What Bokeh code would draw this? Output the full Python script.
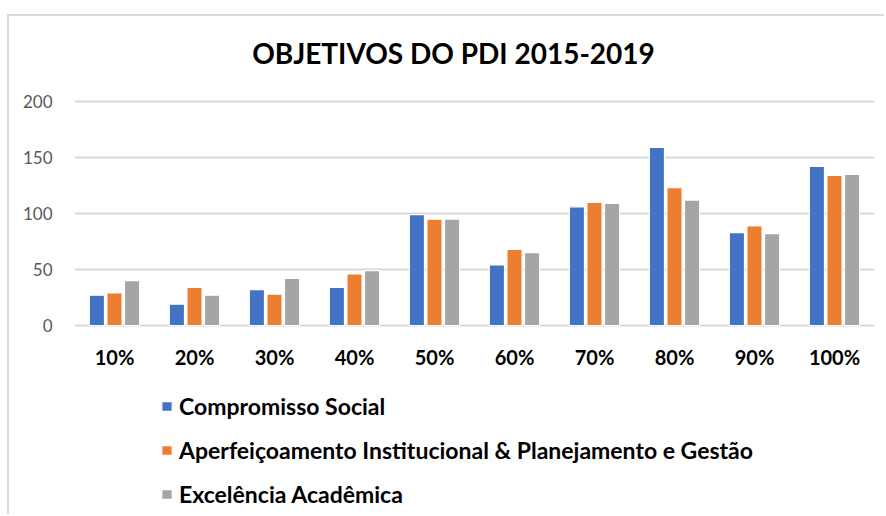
from bokeh.plotting import figure
from bokeh.models import ColumnDataSource, FactorRange, Legend, LegendItem, FixedTicker, Range1d, Label
from bokeh.core.properties import value
from bokeh.transform import dodge
from bokeh.embed import file_html
from bokeh.resources import INLINE

categories = ["10%", "20%", "30%", "40%", "50%", "60%", "70%", "80%", "90%", "100%"]
compromisso = [27, 19, 32, 34, 99, 54, 106, 159, 83, 142]
aperfeicoamento = [29, 34, 28, 46, 95, 68, 110, 123, 89, 134]
excelencia = [40, 27, 42, 49, 95, 65, 109, 112, 82, 135]
series_names = ["Compromisso Social",
                "Aperfeiçoamento Institucional & Planejamento e Gestão",
                "Excelência Acadêmica"]
colors = ["#4472C4", "#ED7D31", "#A5A5A5"]
y_ticks = [0, 50, 100, 150, 200]
title_text = "OBJETIVOS DO PDI 2015-2019"

W, H = 877, 500
top_gap, left_b = 85, 65
right_b = W - left_b - 800
px_per_unit = 224 / 200.0
y_end = 200 + top_gap / px_per_unit
y_start = 200 - (H - top_gap) / px_per_unit
label_y = -31 / px_per_unit

source = ColumnDataSource(dict(cat=categories, s0=compromisso, s1=aperfeicoamento, s2=excelencia))
lab_src = ColumnDataSource(dict(cat=categories, y=[label_y] * len(categories)))

p = figure(width=W, height=H, x_range=FactorRange(*categories), y_range=Range1d(y_start, y_end),
           output_backend="svg", toolbar_location=None,
           min_border_left=left_b, min_border_right=right_b, min_border_top=0, min_border_bottom=0)
p.x_range.range_padding = 0
p.outline_line_color = None
p.styles = {"border-left": "2px solid #D9D9D9", "border-top": "2px solid #D9D9D9",
            "margin-left": "7px", "margin-top": "14px"}

title = Label(x=379, y=H - 36, x_units="screen", y_units="screen", text=title_text,
              text_font="Lato", text_font_style="bold", text_font_size="28px",
              text_color="#000000", text_align="center", text_baseline="middle")
p.add_layout(title)

renderers = []
offsets = [-0.22, 0.0, 0.22]
for i, key in enumerate(["s0", "s1", "s2"]):
    r = p.vbar(x=dodge("cat", offsets[i], range=p.x_range), top=key, width=0.19, bottom=0,
               source=source, fill_color=colors[i], line_color="white", line_width=1.2)
    renderers.append(r)

p.text(x="cat", y="y", text="cat", source=lab_src, text_font=value("Lato"),
       text_font_style="bold", text_font_size="20px", text_color="#000000",
       text_align="center", text_baseline="middle")

p.yaxis.ticker = FixedTicker(ticks=y_ticks)
p.yaxis.axis_line_color = None
p.yaxis.major_tick_line_color = None
p.yaxis.minor_tick_line_color = None
p.yaxis.major_label_text_font = "Lato"
p.yaxis.major_label_text_font_size = "17px"
p.yaxis.major_label_text_color = "#595959"
p.yaxis.major_label_standoff = 16
p.xaxis.visible = False

p.xgrid.grid_line_color = None
p.ygrid.grid_line_color = "#D9D9D9"
p.ygrid.grid_line_width = 2
p.ygrid.ticker = FixedTicker(ticks=y_ticks)

legend = Legend(items=[LegendItem(label=series_names[i], renderers=[renderers[i]]) for i in range(3)],
                location=(86, 8), orientation="vertical")
legend.label_text_font = "Lato"
legend.label_text_font_style = "bold"
legend.label_text_font_size = "23px"
legend.label_text_color = "#000000"
legend.glyph_width = 13
legend.glyph_height = 12
legend.label_standoff = 6
legend.spacing = 16
legend.padding = 0
legend.margin = 0
legend.border_line_color = None
legend.background_fill_alpha = 0
p.add_layout(legend, "center")

open("out.html", "w").write(file_html(p, INLINE))
